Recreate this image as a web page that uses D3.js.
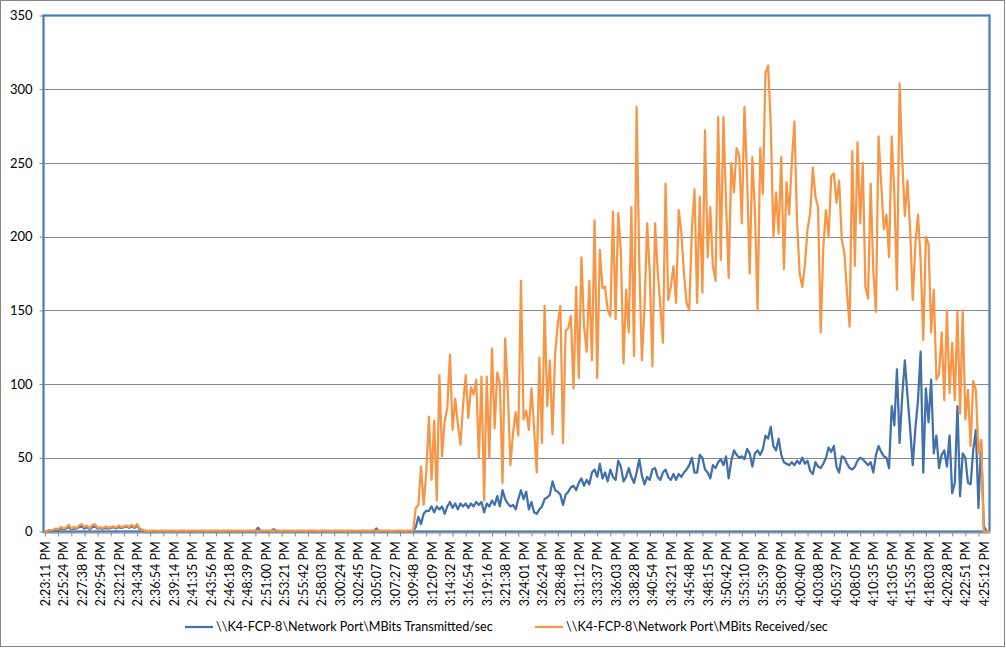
<!DOCTYPE html>
<html><head><meta charset="utf-8">
<script src="https://cdn.jsdelivr.net/npm/d3@7"></script>
<style>body{margin:0;background:#fff} text{font-family:Lato,"Open Sans",sans-serif;fill:#000}</style>
</head><body><svg id="chart" width="1006" height="649"></svg>
<script>
const tickLabels = ["2:23:11 PM","2:25:24 PM","2:27:38 PM","2:29:54 PM","2:32:12 PM","2:34:34 PM","2:36:54 PM","2:39:14 PM","2:41:35 PM","2:43:56 PM","2:46:18 PM","2:48:39 PM","2:51:00 PM","2:53:21 PM","2:55:42 PM","2:58:03 PM","3:00:24 PM","3:02:45 PM","3:05:07 PM","3:07:27 PM","3:09:48 PM","3:12:09 PM","3:14:32 PM","3:16:54 PM","3:19:16 PM","3:21:38 PM","3:24:01 PM","3:26:24 PM","3:28:48 PM","3:31:12 PM","3:33:37 PM","3:36:03 PM","3:38:28 PM","3:40:54 PM","3:43:21 PM","3:45:48 PM","3:48:15 PM","3:50:42 PM","3:53:10 PM","3:55:39 PM","3:58:09 PM","4:00:40 PM","4:03:08 PM","4:05:37 PM","4:08:05 PM","4:10:35 PM","4:13:05 PM","4:15:35 PM","4:18:03 PM","4:20:28 PM","4:22:51 PM","4:25:12 PM"];
const samplesPerLabel = 7;
const yTicks = [0,50,100,150,200,250,300,350];
const seriesNames = ["\\\\K4-FCP-8\\Network Port\\MBits Transmitted/sec","\\\\K4-FCP-8\\Network Port\\MBits Received/sec"];
const seriesColors = ["#4170aa","#f79646"];

const transmitted = [
0,0.5,1,0.5,1.5,1,2,1.5,2,3,1.5,2,2,3,3.5,2,3,1.5,3,3.5,2,2.5,1.5,2.5,2,2.5,3,2,3,2.5,3,3.5,2.5,3.5,2.5,4,1.5,1,0.5,
0.3,0.3,0.3,0.3,0.3,0.3,0.3,0.3,0.3,0.3,0.3,0.3,0.3,0.3,0.3,0.3,0.3,
0.3,0.3,0.3,0.3,0.3,0.3,0.3,0.3,0.3,0.3,0.3,0.3,0.3,0.3,0.3,0.3,0.3,
0.3,0.3,0.3,0.3,0.3,0.3,0.3,0.3,2.5,0.3,0.3,0.3,0.3,0.3,1.5,0.3,0.3,
0.3,0.3,0.3,0.3,0.3,0.3,0.3,0.3,0.3,0.3,0.3,0.3,0.3,0.3,0.3,0.3,0.3,
0.3,0.3,0.3,0.3,0.3,0.3,0.3,0.3,0.3,0.3,0.3,0.3,0.3,0.3,0.3,0.3,0.3,
0.3,0.3,2,0.3,0.3,0.3,0.3,0.3,0.3,0.3,0.3,0.3,0.3,0.3,0.3,0.3,0.3,
3,10,5,12,14,14,17,13,17,15,17,12,17,20,16,19,15,19,17,19,16,19,17,20,18,20,13,19,17,21,18,24,17,28,22,
19,17,18,15,22,28,22,27,15,20,13,12,15,17,22,23,25,34,28,27,25,18,25,27,30,31,28,33,36,31,35,32,40,42,37,46,
36,40,34,42,37,35,48,44,34,37,43,37,33,40,49,38,32,37,35,42,43,37,35,40,42,37,35,39,35,39,37,40,42,45,50,40,
40,52,50,42,40,36,45,43,47,49,45,51,36,48,55,52,50,51,49,56,53,44,53,55,52,56,65,63,71,58,55,63,52,47,46,45,
47,45,48,46,50,46,48,41,39,47,44,43,46,50,57,54,58,44,40,51,50,46,43,42,44,48,50,49,47,45,47,40,52,58,54,51,
50,43,85,72,110,60,92,116,92,70,45,70,89,122,40,97,74,103,53,65,43,52,55,44,65,26,33,85,24,53,50,33,32,55,69,16,62,4,0,0
];

const received = [
0,0.5,1,1,2,1.5,3,2,2.5,4.5,2,3,2.5,4,5,3,4,2,4.5,5,2.5,3,2,3.5,2.5,3,3.5,2.5,4,3,3.5,4,3,4.5,3,5,2,1,0.5,
0.6,0.5,0.6,0.6,0.5,0.6,0.6,0.6,0.5,0.6,0.6,0.5,0.6,0.6,0.6,0.5,0.6,
0.6,0.6,0.5,0.6,0.6,0.6,0.5,0.6,0.6,0.6,0.6,0.5,0.6,0.6,0.6,0.6,0.5,
0.6,0.6,0.6,0.5,0.6,0.6,0.6,0.6,0.5,0.6,0.6,0.6,0.6,0.5,0.6,0.6,0.6,
0.5,0.6,0.6,0.6,0.6,0.5,0.6,0.6,0.6,0.5,0.6,0.6,0.6,0.6,0.5,0.6,0.6,
0.6,0.6,0.5,0.6,0.6,0.6,0.6,0.5,0.6,0.6,0.6,0.5,0.6,0.6,0.6,0.6,0.5,
0.6,0.6,0.6,0.5,0.6,0.6,0.6,0.6,0.5,0.6,0.6,0.6,0.6,0.5,0.6,0.6,0.6,
16,18,44,18,40,78,35,75,21,106,51,75,84,120,69,90,73,59,86,106,77,98,93,103,50,105,21,105,50,124,70,108,100,33,131,
95,45,67,81,65,170,76,82,69,97,70,40,118,60,153,85,116,66,120,141,153,60,136,138,146,97,166,104,186,139,122,170,116,211,104,191,
165,166,150,146,217,144,216,190,114,164,135,220,119,288,182,116,153,209,175,112,209,177,153,128,236,157,166,180,155,218,203,175,155,150,205,232,
155,227,162,272,186,220,180,170,281,184,281,223,172,250,230,260,255,209,288,240,175,254,216,150,260,229,311,316,276,200,230,202,254,178,237,
215,250,278,210,175,166,181,205,216,247,227,220,135,193,218,200,241,243,223,238,198,189,162,139,258,180,264,209,250,166,158,236,177,149,268,
236,205,215,186,268,229,164,304,252,214,238,205,157,195,215,184,130,200,195,135,164,103,107,135,89,150,94,128,89,149,80,150,76,96,58,102,96,53,62,0,0,0
];

const svg = d3.select("#chart");
const plot = {left:43.5, right:989.5, top:15.5, bottom:531.5};
const idx = d3.range(received.length);
const x = d3.scalePoint().domain(idx).range([plot.left + 1.5, plot.right - 0.5]);
const y = d3.scaleLinear().domain([0,350]).range([plot.bottom, plot.top]);

// outer chart border
svg.append("rect").attr("x",0.5).attr("y",0.5).attr("width",1004).attr("height",646)
  .attr("fill","#fff").attr("stroke","#868686").attr("stroke-width",1);

// gridlines
svg.append("g").selectAll("line").data(yTicks.filter(v => v > 0 && v < 350)).join("line")
  .attr("x1",plot.left).attr("x2",plot.right)
  .attr("y1",d => Math.round(y(d)) + 0.5).attr("y2",d => Math.round(y(d)) + 0.5)
  .attr("stroke","#888").attr("stroke-width",1.2);

// y axis
const yAxis = svg.append("g").attr("transform",`translate(${plot.left},0)`)
  .call(d3.axisLeft(y).tickValues(yTicks).tickSize(4).tickPadding(7));
yAxis.select(".domain").remove();
yAxis.selectAll("line").attr("stroke","#888");
yAxis.selectAll("text").attr("font-size",13).attr("font-family","Lato, 'Open Sans', sans-serif").attr("fill","#000");

// plot area border
svg.append("rect").attr("x",plot.left).attr("y",plot.top)
  .attr("width",plot.right-plot.left).attr("height",plot.bottom-plot.top)
  .attr("fill","none").attr("stroke","#4a7ebb").attr("stroke-width",2.25);

// x axis tick marks
const xTickAxis = svg.append("g").attr("transform",`translate(0,${plot.bottom+1})`)
  .call(d3.axisBottom(x).tickValues(idx.filter(i => i % 5 === 0)).tickSize(4).tickFormat(""));
xTickAxis.select(".domain").attr("stroke","#888").attr("d",`M${plot.left},0.5H${plot.right}`);
xTickAxis.selectAll("line").attr("stroke","#888");

// x labels
const labelIdx = idx.filter(i => i % samplesPerLabel === 0 && i / samplesPerLabel < tickLabels.length);
const xLab = svg.append("g").attr("transform",`translate(0,${plot.bottom})`)
  .call(d3.axisBottom(x).tickValues(labelIdx).tickSize(0).tickFormat(i => tickLabels[i / samplesPerLabel]));
xLab.select(".domain").remove();
xLab.selectAll("text")
  .attr("transform","rotate(-90)").attr("text-anchor","end")
  .attr("x",-10).attr("y",0).attr("dy","0.36em")
  .attr("font-size",12.5).attr("font-family","Lato, 'Open Sans', sans-serif").attr("fill","#000");

// series lines
const line = d3.line().x((d,i) => x(i)).y(d => y(d));
[transmitted, received].forEach((s, k) => {
  svg.append("path").datum(s).attr("d",line).attr("fill","none")
    .attr("stroke",seriesColors[k]).attr("stroke-width",2.25)
    .attr("stroke-linejoin","round").attr("stroke-linecap","round");
});

// legend
const legendPos = [{x:185},{x:535}];
const lg = svg.append("g");
seriesNames.forEach((name,k) => {
  lg.append("line").attr("x1",legendPos[k].x).attr("x2",legendPos[k].x+28)
    .attr("y1",627).attr("y2",627).attr("stroke",seriesColors[k]).attr("stroke-width",2.25);
  lg.append("text").attr("x",legendPos[k].x+31).attr("y",627).attr("dy","0.35em")
    .attr("font-size",12.6).text(name);
});
</script></body></html>
